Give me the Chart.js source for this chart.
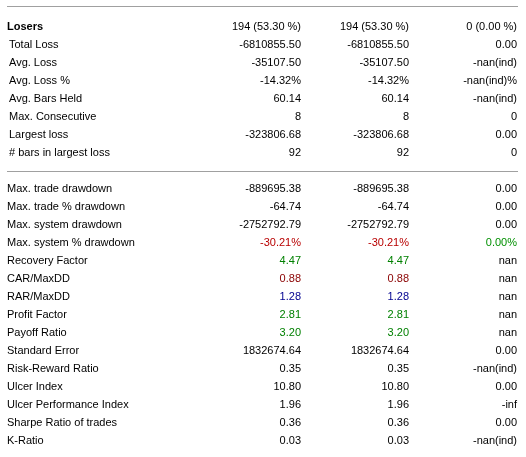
<!DOCTYPE html>
<html>
<head>
<meta charset="utf-8">
<script src="https://cdn.jsdelivr.net/npm/chart.js@4/dist/chart.umd.min.js"></script>
<style>
  html, body { margin: 0; padding: 0; background: #fff; }
  canvas { display: block; }
</style>
</head>
<body>
<canvas id="report" width="526" height="457"></canvas>
<script>
// Row labels of the backtest report ('' = separator row)
const ROW_LABELS = [
  'Losers', 'Total Loss', 'Avg. Loss', 'Avg. Loss %', 'Avg. Bars Held',
  'Max. Consecutive', 'Largest loss', '# bars in largest loss',
  '',
  'Max. trade drawdown', 'Max. trade % drawdown', 'Max. system drawdown',
  'Max. system % drawdown', 'Recovery Factor', 'CAR/MaxDD', 'RAR/MaxDD',
  'Profit Factor', 'Payoff Ratio', 'Standard Error', 'Risk-Reward Ratio',
  'Ulcer Index', 'Ulcer Performance Index', 'Sharpe Ratio of trades', 'K-Ratio'
];

const ALL_TRADES = [
  '194 (53.30 %)', '-6810855.50', '-35107.50', '-14.32%', '60.14',
  '8', '-323806.68', '92',
  null,
  '-889695.38', '-64.74', '-2752792.79',
  '-30.21%', '4.47', '0.88', '1.28',
  '2.81', '3.20', '1832674.64', '0.35',
  '10.80', '1.96', '0.36', '0.03'
];

const LONG_TRADES = [
  '194 (53.30 %)', '-6810855.50', '-35107.50', '-14.32%', '60.14',
  '8', '-323806.68', '92',
  null,
  '-889695.38', '-64.74', '-2752792.79',
  '-30.21%', '4.47', '0.88', '1.28',
  '2.81', '3.20', '1832674.64', '0.35',
  '10.80', '1.96', '0.36', '0.03'
];

const SHORT_TRADES = [
  '0 (0.00 %)', '0.00', '-nan(ind)', '-nan(ind)%', '-nan(ind)',
  '0', '0.00', '0',
  null,
  '0.00', '0.00', '0.00',
  '0.00%', 'nan', 'nan', 'nan',
  'nan', 'nan', '0.00', '-nan(ind)',
  '0.00', '-inf', '0.00', '-nan(ind)'
];

const COLUMNS = [ALL_TRADES, LONG_TRADES, SHORT_TRADES];

// text colours of highlighted rows: [all, long, short]
const RED = '#b80000', DARK_RED = '#8a0000', GREEN = '#008000', NAVY = '#000090';
const ROW_COLORS = {
  'Max. system % drawdown': [RED, RED, '#009000'],
  'Recovery Factor': [GREEN, GREEN, '#000'],
  'CAR/MaxDD': [DARK_RED, DARK_RED, '#000'],
  'RAR/MaxDD': [NAVY, NAVY, '#000'],
  'Profit Factor': [GREEN, GREEN, '#000'],
  'Payoff Ratio': [GREEN, GREEN, '#000']
};

const FONT = '11px "Liberation Sans", Arial, sans-serif';
const BOLD_FONT = 'bold 11px "Liberation Sans", Arial, sans-serif';
const LINE_COLOR = '#a0a0a0';

const tablePlugin = {
  id: 'tableText',
  afterDatasetsDraw(chart) {
    const ctx = chart.ctx;
    const yScale = chart.scales.y;
    const area = chart.chartArea;
    const sepIndex = ROW_LABELS.indexOf('');
    ctx.save();
    ctx.textBaseline = 'middle';

    // rule lines: top of table and section separator
    ctx.strokeStyle = LINE_COLOR;
    ctx.lineWidth = 1;
    const sepY = Math.round(yScale.getPixelForValue(sepIndex)) + 0.5;
    [Math.round(area.top - 12) + 0.5, sepY].forEach(y => {
      ctx.beginPath();
      ctx.moveTo(7, y);
      ctx.lineTo(518, y);
      ctx.stroke();
    });

    // row labels
    ctx.textAlign = 'left';
    ctx.fillStyle = '#000';
    ROW_LABELS.forEach((label, i) => {
      if (!label) return;
      ctx.font = i === 0 ? BOLD_FONT : FONT;
      const x = (i > 0 && i < sepIndex) ? 9 : 7;
      ctx.fillText(label, x, yScale.getPixelForValue(i));
    });

    // cell values, placed at each point of the datasets
    ctx.textAlign = 'right';
    ctx.font = FONT;
    chart.data.datasets.forEach((ds, c) => {
      const meta = chart.getDatasetMeta(c);
      meta.data.forEach((el, j) => {
        const pt = ds.data[j];
        const colors = ROW_COLORS[pt.y];
        ctx.fillStyle = colors ? colors[c] : '#000';
        ctx.fillText(pt.text, el.x, el.y);
      });
    });
    ctx.restore();
  }
};

const datasets = COLUMNS.map((values, c) => ({
  label: ['All trades', 'Long trades', 'Short trades'][c],
  data: values
    .map((v, i) => (v === null ? null : { x: c + 1, y: ROW_LABELS[i], text: v }))
    .filter(p => p !== null),
  pointRadius: 0,
  showLine: false
}));

new Chart(document.getElementById('report'), {
  type: 'scatter',
  data: { labels: ROW_LABELS, datasets: datasets },
  options: {
    responsive: false,
    animation: false,
    events: [],
    layout: { padding: { left: 193, right: 9, top: 18, bottom: 7 } },
    scales: {
      x: { type: 'linear', min: 0, max: 3, display: false },
      y: { type: 'category', labels: ROW_LABELS, offset: true, display: false }
    },
    plugins: { legend: { display: false }, tooltip: { enabled: false } }
  },
  plugins: [tablePlugin]
});
</script>
</body>
</html>
